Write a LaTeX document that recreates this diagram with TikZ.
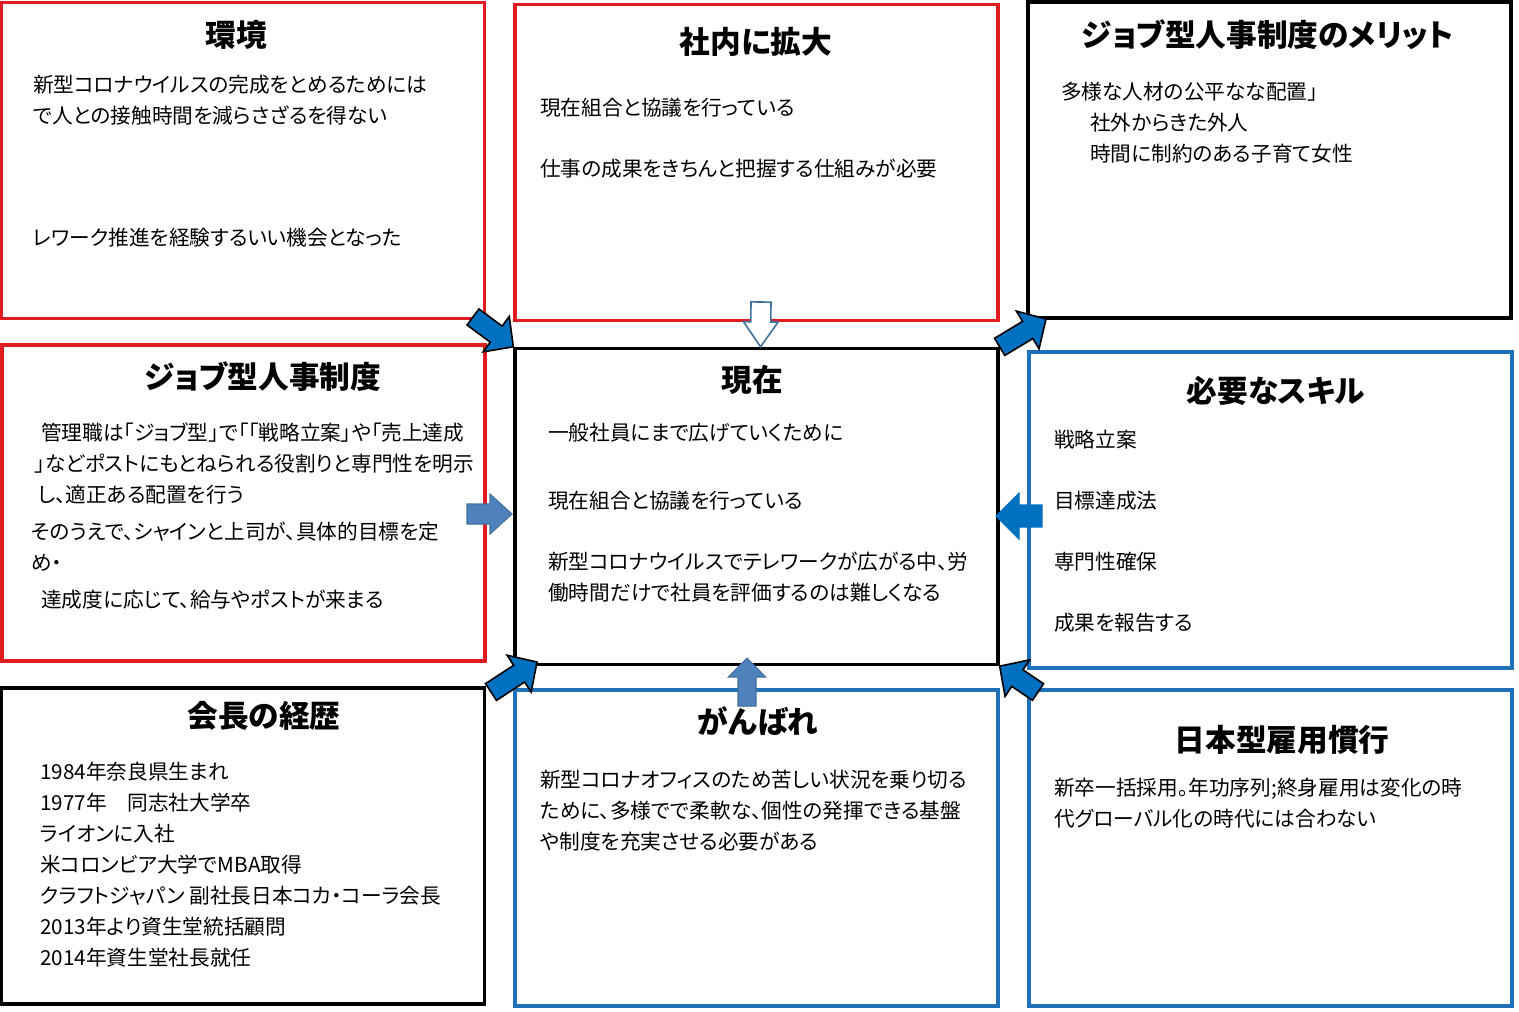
\documentclass[tikz,border=0pt]{standalone}
\usepackage{fontspec}
\setmainfont{Noto Sans CJK JP}[RawFeature=+palt]
\usepackage{tikz}
\usetikzlibrary{calc}

\definecolor{boxred}{RGB}{224,27,34}
\definecolor{boxblue}{RGB}{30,113,184}
\definecolor{arrblue}{RGB}{0,112,192}
\definecolor{steelblue}{RGB}{79,129,189}
\definecolor{steeledge}{RGB}{65,113,156}

\newcommand{\boxbodyfont}{\fontsize{15.5pt}{23.25pt}\selectfont}
\newcommand{\boxtitlefont}{\fontsize{23pt}{27pt}\selectfont\bfseries}

% block arrow: [style]{tail}{tip}{half shaft}{half head}{head length}
\newcommand{\blockarrow}[6][]{%
  \coordinate (neck) at ($(#3)!#6!(#2)$);
  \draw[#1] ($(#2)!#4!90:(#3)$) -- ($(neck)!#4!90:(#3)$) -- ($(neck)!#5!90:(#3)$) -- (#3)
    -- ($(neck)!#5!-90:(#3)$) -- ($(neck)!#4!-90:(#3)$) -- ($(#2)!#4!-90:(#3)$) -- cycle;
}

\tikzset{
  box/.style={shape=rectangle, draw, line width=2.5pt, minimum width=483*0.75pt, minimum height=316*0.75pt, inner sep=0pt},
  redbox/.style={box, draw=boxred},
  blackbox/.style={box, draw=black},
  bluebox/.style={box, draw=boxblue},
  boxtitle/.style={font=\boxtitlefont, inner sep=0pt},
  boxbody/.style={font=\boxbodyfont, anchor=north west, align=left, inner sep=0pt},
  diagarrow/.style={fill=arrblue, draw=black, line width=1.2pt},
  sidearrow/.style={fill=arrblue, draw=arrblue, line width=0.8pt},
  steelarrow/.style={fill=steelblue, draw=steeledge, line width=0.8pt},
  hollowarrow/.style={fill=white, draw=steeledge, line width=1.2pt}
}

\begin{document}
\begin{tikzpicture}[x=0.75pt, y=-0.75pt]
\useasboundingbox (0,0) rectangle (1519,1011);

% boxes
\node [redbox] (kankyo) at (243,160.5) {};
\node [redbox] (shanai) at (756.5,162.5) {};
\node [blackbox] (merit) at (1269.5,160) {};
\node [redbox] (job) at (243.5,503) {};
\node [blackbox] (genzai) at (756.5,506.5) {};
\node [bluebox] (skill) at (1270.5,510) {};
\node [blackbox] (kaicho) at (243,846) {};
\node [bluebox] (ganbare) at (756.5,848) {};
\node [bluebox] (nihon) at (1270.5,848) {};

% titles
\node [boxtitle] (kankyo-t) at (236,35) {環境};
\node [boxtitle] (shanai-t) at (756,42) {社内に拡大};
\node [boxtitle] (merit-t) at (1268,35) {ジョブ型人事制度のメリット};
\node [boxtitle] (job-t) at (263,377) {ジョブ型人事制度};
\node [boxtitle] (genzai-t) at (752,380) {現在};
\node [boxtitle] (skill-t) at (1276,391) {必要なスキル};
\node [boxtitle] (kaicho-t) at (264,716) {会長の経歴};
\node [boxtitle] (ganbare-t) at (758,721) {がんばれ};
\node [boxtitle] (nihon-t) at (1282,740) {日本型雇用慣行};

% texts
\node [boxbody] (kankyo-b) at (33,75) {新型コロナウイルスの完成をとめるためには\\
で人との接触時間を減らさざるを得ない\\[68pt]
レワーク推進を経験するいい機会となった};
\node [boxbody] (shanai-b) at (540,98) {現在組合と協議を行っている\\[22.5pt]
仕事の成果をきちんと把握する仕組みが必要};
\node [boxbody] (merit-b) at (1061,82) {多様な人材の公平なな配置」\\
\hspace*{21.75pt}社外からきた外人\\
\hspace*{21.75pt}時間に制約のある子育て女性};
\node [boxbody] (job-b) at (31,423) {\hspace*{7.5pt}管理職は「ジョブ型」で「「戦略立案」や「売上達成\\
\hspace*{3pt}」などポストにもとねられる役割りと専門性を明示\\
\hspace*{5pt}し、適正ある配置を行う\\[4.5pt]
そのうえで、シャインと上司が、具体的目標を定\\
め・\\[4.5pt]
\hspace*{7.5pt}達成度に応じて、給与やポストが来まる};
\node [boxbody] (genzai-b) at (548,423) {一般社員にまで広げていくために\\[27.75pt]
現在組合と協議を行っている\\[22.5pt]
新型コロナウイルスでテレワークが広がる中、労\\
働時間だけで社員を評価するのは難しくなる};
\node [boxbody] (skill-b) at (1054,430) {戦略立案\\[22.5pt]
目標達成法\\[22.5pt]
専門性確保\\[22.5pt]
成果を報告する};
\node [boxbody] (kaicho-b) at (40,762) {1984年奈良県生まれ\\
1977年　同志社大学卒\\
ライオンに入社\\
米コロンビア大学でMBA取得\\
クラフトジャパン 副社長日本コカ・コーラ会長\\
2013年より資生堂統括顧問\\
2014年資生堂社長就任};
\node [boxbody] (ganbare-b) at (540,770) {新型コロナオフィスのため苦しい状況を乗り切る\\
ために、多様でで柔軟な、個性の発揮できる基盤\\
や制度を充実させる必要がある};
\node [boxbody] (nihon-b) at (1054,778) {新卒一括採用。年功序列;終身雇用は変化の時\\
代グローバル化の時代には合わない};

% arrows
\coordinate (kankyo-tail) at (473,317);
\coordinate (merit-tip) at (1046,319);
\coordinate (kaicho-tail) at (491,692);
\coordinate (kaicho-tip) at (537,662);
\coordinate (nihon-tail) at (1038,692);
\coordinate (job-tail) at (467,514);
\coordinate (job-tip) at (512,514);
\coordinate (skill-tail) at (1042,516);
\coordinate (skill-tip) at (996,516);
\coordinate (shanai-tail) at (761,302);
\coordinate (ganbare-tail) at (747,706);
\coordinate (ganbare-tip) at (747,658);

\blockarrow[diagarrow]{kankyo-tail}{genzai.north west}{7.5pt}{16.5pt}{16pt}
\blockarrow[diagarrow]{genzai.north east}{merit-tip}{7.5pt}{16.5pt}{16pt}
\blockarrow[diagarrow]{kaicho-tail}{kaicho-tip}{7.5pt}{16.5pt}{16pt}
\blockarrow[diagarrow]{nihon-tail}{genzai.south east}{7.5pt}{16.5pt}{16pt}
\blockarrow[steelarrow]{job-tail}{job-tip}{7.5pt}{15pt}{16.5pt}
\blockarrow[sidearrow]{skill-tail}{skill-tip}{8.25pt}{17.25pt}{17.25pt}
\blockarrow[hollowarrow]{shanai-tail}{$(genzai.north)+(4,0)$}{7.5pt}{13pt}{18.75pt}
\blockarrow[steelarrow]{ganbare-tail}{ganbare-tip}{6.75pt}{14pt}{14.25pt}
\end{tikzpicture}
\end{document}
